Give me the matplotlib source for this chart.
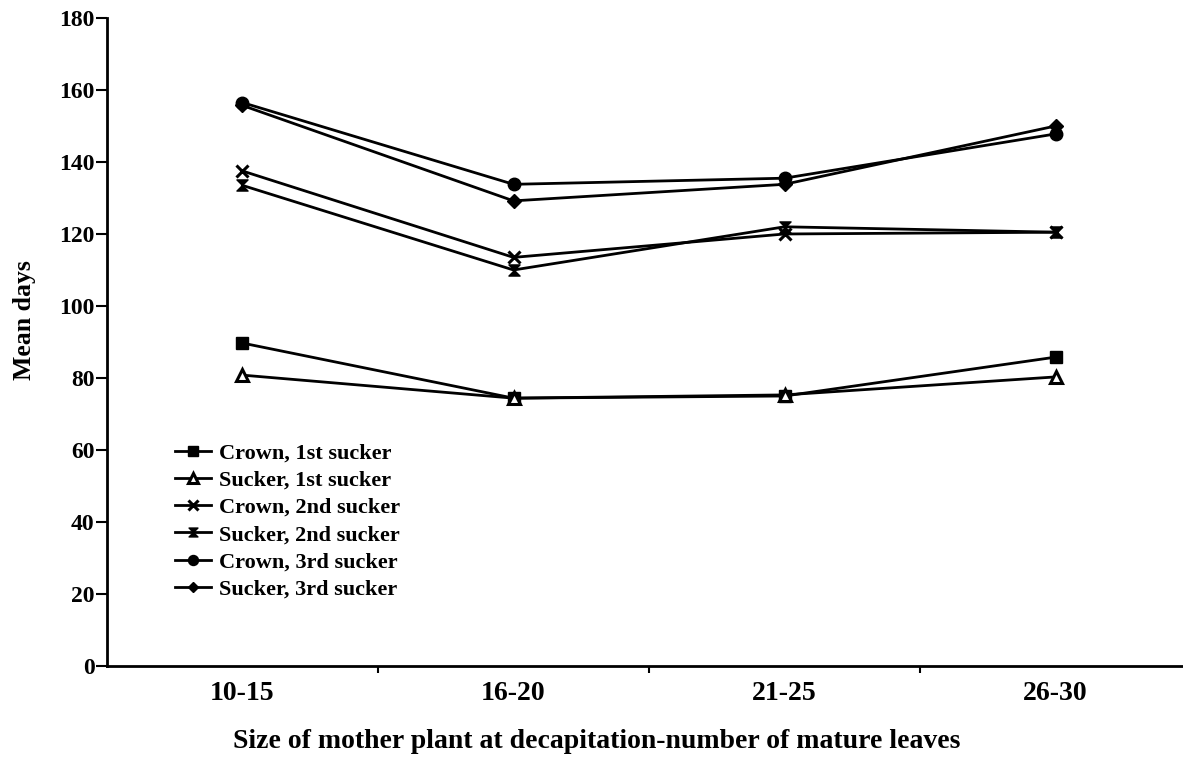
import matplotlib
matplotlib.use("Agg")
import matplotlib.pyplot as plt
from matplotlib.path import Path

# ---- data ----
categories = ["10-15", "16-20", "21-25", "26-30"]
crown_1st = [89.7, 74.4, 75.0, 85.8]
sucker_1st = [80.8, 74.4, 75.3, 80.3]
crown_2nd = [137.5, 113.5, 120.0, 120.5]
sucker_2nd = [133.5, 110.0, 122.0, 120.5]
crown_3rd = [156.5, 133.8, 135.5, 147.8]
sucker_3rd = [155.7, 129.2, 133.8, 150.0]
series_labels = ["Crown, 1st sucker", "Sucker, 1st sucker", "Crown, 2nd sucker",
                 "Sucker, 2nd sucker", "Crown, 3rd sucker", "Sucker, 3rd sucker"]
y_ticks = [0, 20, 40, 60, 80, 100, 120, 140, 160, 180]
x_label = "Size of mother plant at decapitation-number of mature leaves"
y_label = "Mean days"

plt.rcParams['font.family'] = ['Liberation Serif', 'DejaVu Serif']
plt.rcParams['font.weight'] = 'bold'

hourglass = Path([(-1, 1), (1, 1), (-1, -1), (1, -1), (-1, 1)],
                 [Path.MOVETO, Path.LINETO, Path.LINETO, Path.LINETO, Path.CLOSEPOLY])

fig = plt.figure(figsize=(11.83, 7.72), dpi=100)
ax = fig.add_axes([0.0904, 0.1373, 0.9096, 0.8394])

x = list(range(len(categories)))
lw = 2.0
styles = [
    dict(marker='s', ms=9, mfc='black'),
    dict(marker='^', ms=9, mfc='white', mew=2.2),
    dict(marker='x', ms=9, mew=2.2),
    dict(marker=hourglass, ms=8, mfc='black'),
    dict(marker='o', ms=9, mfc='black'),
    dict(marker='D', ms=7, mfc='black'),
]
for ys, lab, st in zip([crown_1st, sucker_1st, crown_2nd, sucker_2nd, crown_3rd, sucker_3rd],
                       series_labels, styles):
    ax.plot(x, ys, color='black', lw=lw, mec='black', label=lab, **st)

ax.set_xlim(-0.5, 3.47)
ax.set_ylim(0, 180)
ax.set_yticks(y_ticks)
ax.set_xticks(x)
ax.set_xticklabels(categories)
ax.set_xticks([0.5, 1.5, 2.5], minor=True)
ax.tick_params(axis='x', which='major', length=0, pad=11, labelsize=20)
ax.tick_params(axis='x', which='minor', length=5, width=1.5, direction='out')
ax.tick_params(axis='y', which='major', length=8, width=1.5, labelsize=17, pad=1)

for s in ['top', 'right']:
    ax.spines[s].set_visible(False)
for s in ['left', 'bottom']:
    ax.spines[s].set_linewidth(2)

ax.set_xlabel(x_label, fontsize=20, fontweight='bold')
ax.xaxis.set_label_coords(0.455, -0.097)
ax.set_ylabel(y_label, fontsize=18.5, fontweight='bold')
ax.yaxis.set_label_coords(-0.066, 0.534)

leg = ax.legend(loc='upper left', bbox_to_anchor=(0.055, 0.358), frameon=False,
                prop={'size': 16, 'weight': 'bold'}, handlelength=1.6, handletextpad=0.4,
                labelspacing=0.3, borderaxespad=0, markerscale=0.8)

fig.savefig("out.png", dpi=100, facecolor='white')
